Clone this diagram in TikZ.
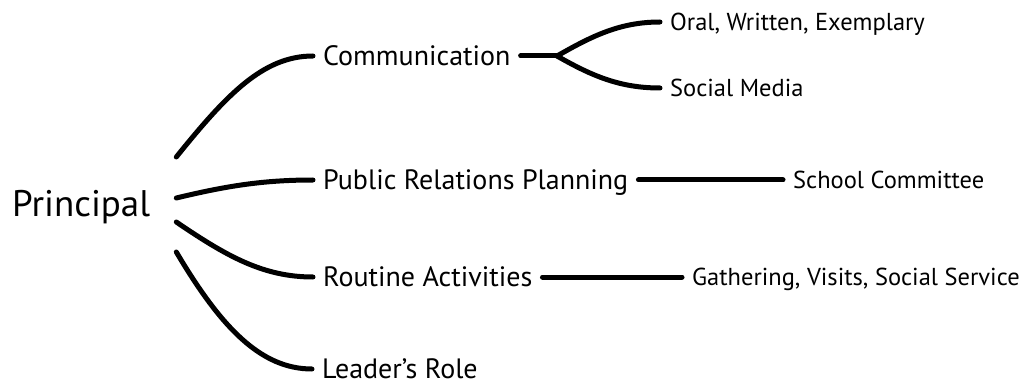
\documentclass[tikz,border=0pt]{standalone}
\usepackage{fontspec}
\setmainfont{PT Sans}
\begin{document}
\begin{tikzpicture}[x=1pt,y=-1pt,
  conn/.style={line width=5pt, line cap=round},
  lbl/.style={inner xsep=10pt, inner ysep=0pt, text depth=0pt, anchor=west},
  root/.style={lbl, inner xsep=26pt, text height=25.5pt, font=\fontsize{37}{40}\selectfont},
  lone/.style={lbl, text height=19.5pt, font=\fontsize{28}{32}\selectfont},
  ltwo/.style={lbl, text height=17pt, font=\fontsize{24.5}{28}\selectfont}]
\useasboundingbox (0,0) rectangle (1026,385);
\fill[white] (0,0) rectangle (1026,385);
\node[root] (P) at (-14,204) {Principal};
\node[lone] (C) at (313,56) {Communication};
\node[lone] (R) at (313,180) {Public Relations Planning};
\node[lone] (A) at (313,277) {Routine Activities};
\node[lone] (L) at (312,369) {Leader's Role};
\node[ltwo] (O) at (660,22) {Oral, Written, Exemplary};
\node[ltwo] (S) at (660,88) {Social Media};
\node[ltwo] (K) at (783,180) {School Committee};
\node[ltwo] (G) at (682,277) {Gathering, Visits, Social Service};
\coordinate (J) at (557,56);
\draw[conn] ([yshift=47pt]P.east) .. controls +(50,-62) and +(-50,0) .. (C.west);
\draw[conn] ([yshift=6pt]P.east) .. controls +(50,-12) and +(-50,0) .. (R.west);
\draw[conn] ([yshift=-18pt]P.east) .. controls +(50,34) and +(-50,0) .. (A.west);
\draw[conn] ([yshift=-48pt]P.east) .. controls +(45,76) and +(-51,0) .. (L.west);
\draw[conn] (C.east) -- (J);
\draw[conn] (J) .. controls +(35,-20) and +(-40,0) .. (O.west);
\draw[conn] (J) .. controls +(35,20) and +(-40,0) .. (S.west);
\draw[conn] (R.east) -- (K.west);
\draw[conn] (A.east) -- (G.west);
\end{tikzpicture}
\end{document}
